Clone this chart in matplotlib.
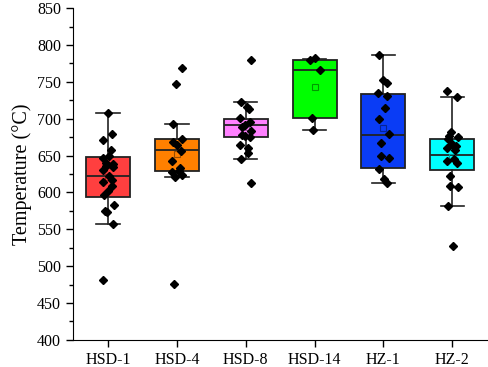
import numpy as np
import matplotlib
matplotlib.use("Agg")
import matplotlib.pyplot as plt
from matplotlib.colors import to_rgb

plt.rcParams['font.family'] = ['Liberation Serif', 'DejaVu Serif']

# sample names
samples = ['HSD-1', 'HSD-4', 'HSD-8', 'HSD-14', 'HZ-1', 'HZ-2']

hsd1 = [708, 679, 671, 657, 649, 647, 638, 636, 640, 635, 631, 622, 617, 614,
        608, 602, 596, 583, 575, 573, 557, 481]
hsd4 = [768.5, 747.5, 692.5, 673, 668, 664, 656, 643, 633, 629, 627, 623, 621, 476]
hsd8 = [780, 722, 716, 713, 701, 696, 692, 689, 683, 678, 676, 675, 664, 660,
        653, 645, 613]
hsd14 = [782, 779, 766, 701.5, 685]
hz1 = [786.5, 752, 749, 735, 731, 714, 700, 679, 667, 650, 647, 632, 618, 612.5]
hz2 = [737, 730, 682, 677, 675, 672, 666, 663, 660, 658, 645, 642, 640, 622,
       609, 607, 582, 527]
groups = [hsd1, hsd4, hsd8, hsd14, hz1, hz2]

# box statistics as drawn
q1 = [594, 628.6, 674.7, 701.5, 633, 631]
med = [622.5, 657, 692, 766, 678.5, 651]
q3 = [647.5, 672.4, 700, 779, 734, 672.4]
whislo = [557, 621, 645, 685, 612.5, 582]
whishi = [708, 692.5, 722, 781.5, 786.5, 730]
means = [621, 652.5, 689, 743, 687.5, 648]

colors = ['#FF3F3F', '#FF8000', '#FF80FF', '#00FF00', '#0A3CF5', '#00FFFF']

fig = plt.figure(figsize=(4.88, 3.67), dpi=100)
ax = fig.add_axes([0.1496, 0.074, 0.8504, 0.904])

stats = []
for i in range(len(samples)):
    stats.append(dict(label=samples[i], q1=q1[i], med=med[i], q3=q3[i],
                      whislo=whislo[i], whishi=whishi[i], mean=means[i], fliers=[]))

pos = np.arange(len(samples))
bp = ax.bxp(stats, positions=pos, widths=0.64, patch_artist=True,
            showfliers=False, showmeans=False, capwidths=0.34,
            boxprops=dict(linewidth=1.3, edgecolor='#222222'),
            medianprops=dict(color='#222222', linewidth=1.3),
            whiskerprops=dict(color='#222222', linewidth=1.2),
            capprops=dict(color='#222222', linewidth=1.2))
for patch, c in zip(bp['boxes'], colors):
    patch.set_facecolor(c)

# mean markers (hollow squares)
for i, c in enumerate(colors):
    dark = tuple(0.6 * v for v in to_rgb(c))
    ax.plot(pos[i], means[i], marker='s', ms=4.5, mfc='none', mec=dark,
            mew=0.8, zorder=3)

# data points with a small deterministic jitter
for i, vals in enumerate(groups):
    n = len(vals)
    jit = 0.08 * np.sin(np.arange(n) * 2.3 + i)
    ax.plot(pos[i] + jit, vals, 'D', color='black', ms=4.5, zorder=4)

ax.set_xlim(-0.51, 5.52)
ax.set_ylim(400, 850)
ax.set_yticks(np.arange(400, 851, 50))
ax.set_yticks(np.arange(400, 851, 25), minor=True)
ax.set_xticks(pos)
ax.set_xticklabels(samples)
ax.tick_params(axis='both', direction='out', length=5, width=1, labelsize=11.5)
ax.tick_params(axis='y', which='minor', length=3, width=1)
ax.spines['top'].set_visible(False)
ax.spines['right'].set_visible(False)
ax.set_ylabel('Temperature (°C)', fontsize=14.5, labelpad=4)

fig.savefig('out.png', dpi=100)
